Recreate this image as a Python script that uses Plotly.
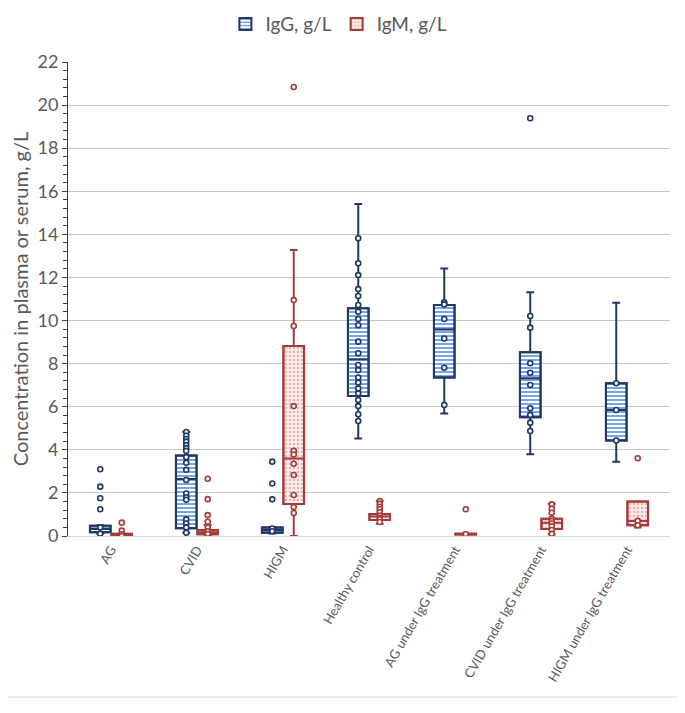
import plotly.graph_objects as go

categories = ["AG", "CVID", "HIGM", "Healthy control", "AG under IgG treatment",
              "CVID under IgG treatment", "HIGM under IgG treatment"]

# IgG box statistics (g/L)
igg_q1 = [0.17, 0.36, 0.15, 6.50, 7.36, 5.51, 4.43]
igg_median = [0.32, 2.65, 0.28, 8.20, 9.59, 7.32, 5.85]
igg_q3 = [0.48, 3.74, 0.40, 10.57, 10.72, 8.53, 7.09]
igg_low = [0.11, 0.15, 0.12, 4.53, 5.69, 3.79, 3.45]
igg_high = [0.50, 4.83, 0.42, 15.41, 12.42, 11.31, 10.83]

# IgM box statistics (g/L)
igm_q1 = [0.03, 0.08, 1.49, 0.74, 0.07, 0.33, 0.50]
igm_median = [0.06, 0.17, 3.60, 0.90, 0.09, 0.62, 0.70]
igm_q3 = [0.10, 0.28, 8.82, 1.02, 0.11, 0.80, 1.60]
igm_low = [0.00, 0.05, 0.00, 0.57, 0.07, 0.08, 0.40]
igm_high = [0.12, 0.51, 13.27, 1.62, 0.11, 1.50, 1.60]

# individual points shown (inner points and outliers)
igg_points = [
    [3.10, 2.29, 1.75, 1.24, 0.40, 0.11],
    [4.83, 4.65, 4.50, 4.38, 4.22, 4.08, 3.95, 3.66, 3.40, 3.07, 2.60, 1.97, 1.80, 1.68, 0.77, 0.58, 0.40, 0.15],
    [3.45, 2.44, 1.70, 0.35, 0.22],
    [13.82, 12.66, 12.11, 11.46, 11.14, 10.72, 10.41, 10.07, 9.78, 9.02, 8.48, 7.94, 7.70, 7.36, 7.12, 6.85, 6.62, 6.31, 6.03, 5.65, 5.34],
    [10.85, 10.75, 10.07, 9.17, 7.81, 6.08],
    [19.39, 10.21, 9.67, 8.02, 7.58, 7.01, 5.93, 5.62, 5.26, 4.87],
    [7.09, 5.85, 4.43],
]
igm_points = [
    [0.62, 0.25, 0.08, 0.00],
    [2.66, 1.71, 0.97, 0.66, 0.40, 0.22, 0.10],
    [20.84, 10.95, 9.75, 6.03, 3.95, 3.78, 3.35, 2.83, 1.90, 1.35, 1.07],
    [1.62, 1.49, 1.36, 1.24, 1.10, 0.95, 0.85, 0.78, 0.65],
    [1.24, 0.09],
    [1.47, 1.27, 1.08, 0.80, 0.70, 0.58, 0.45, 0.28, 0.10],
    [3.61, 0.70, 0.50],
]

IGG_LINE = "#1f3864"
IGM_LINE = "#a33b39"
OFFSET = 0.125
BOXW = 0.24

idx = list(range(len(categories)))
x_igg = [i - OFFSET for i in idx]
x_igm = [i + OFFSET for i in idx]

fig = go.Figure()

def add_series(name, xs, q1, med, q3, lo, hi, pts, line_color, pattern):
    # patterned fill (bar from q1 to q3)
    fig.add_trace(go.Bar(
        x=xs, y=[b - a for a, b in zip(q1, q3)], base=q1, width=BOXW,
        name=name, showlegend=True,
        marker=dict(color="white", line=dict(color=line_color, width=2), pattern=pattern),
        hoverinfo="skip",
    ))
    # box outline, median, whiskers
    fig.add_trace(go.Box(
        x=xs, q1=q1, median=med, q3=q3, lowerfence=lo, upperfence=hi,
        width=BOXW, whiskerwidth=0.38, fillcolor="rgba(0,0,0,0)",
        line=dict(color=line_color, width=2), showlegend=False, name=name,
    ))
    px, py = [], []
    for x, vals in zip(xs, pts):
        for v in vals:
            px.append(x)
            py.append(v)
    fig.add_trace(go.Scatter(
        x=px, y=py, mode="markers", showlegend=False, name=name,
        marker=dict(symbol="circle", size=5, color="white", line=dict(color=line_color, width=1.6)),
    ))

add_series("IgG, g/L", x_igg, igg_q1, igg_median, igg_q3, igg_low, igg_high, igg_points, IGG_LINE,
           dict(shape="-", fgcolor="#6a9be0", bgcolor="white", size=4, solidity=0.45, fillmode="replace"))
add_series("IgM, g/L", x_igm, igm_q1, igm_median, igm_q3, igm_low, igm_high, igm_points, IGM_LINE,
           dict(shape=".", fgcolor="#e6b3b3", bgcolor="#fbeeee", size=4, solidity=0.35, fillmode="replace"))

font_family = "Lato, Open Sans, sans-serif"
fig.update_layout(
    width=677, height=705,
    margin=dict(l=60, r=15, t=54, b=177, autoexpand=False),
    paper_bgcolor="white", plot_bgcolor="white",
    barmode="overlay", boxmode="overlay",
    font=dict(family=font_family, color="#595959"),
    legend=dict(orientation="h", x=0.45, xanchor="center", y=1.08, yanchor="middle",
                font=dict(size=19, color="#595959"), traceorder="normal",
                itemwidth=30, tracegroupgap=0),
    xaxis=dict(range=[-0.5, 6.5], tickmode="array", tickvals=idx, ticktext=categories,
               tickangle=-60, tickfont=dict(size=13, color="#595959"), automargin=False,
               showgrid=False, zeroline=False, showline=True, linecolor="#d9d9d9", linewidth=1,
               ticks=""),
    yaxis=dict(range=[0, 22], dtick=2, tick0=0, showgrid=True, gridcolor="#c6c6c6", gridwidth=1,
               zeroline=False, showline=True, linecolor="#404040", linewidth=1, automargin=False,
               ticks="outside", ticklen=5, tickcolor="#404040",
               tickfont=dict(size=18, color="#595959"),
               minor=dict(dtick=0.4, tick0=0, ticks="outside", ticklen=4, tickcolor="#404040", showgrid=False),
               title=dict(text="Concentration in plasma or serum, g/L", font=dict(size=20, color="#595959"),
                          standoff=5)),
    shapes=[dict(type="rect", xref="paper", yref="paper",
                 x0=-0.1113, x1=1.0216, y0=-0.3397, y1=1.1287,
                 line=dict(color="#d9d9d9", width=1), fillcolor="rgba(0,0,0,0)", layer="below")],
)

fig.write_html("out.html")
